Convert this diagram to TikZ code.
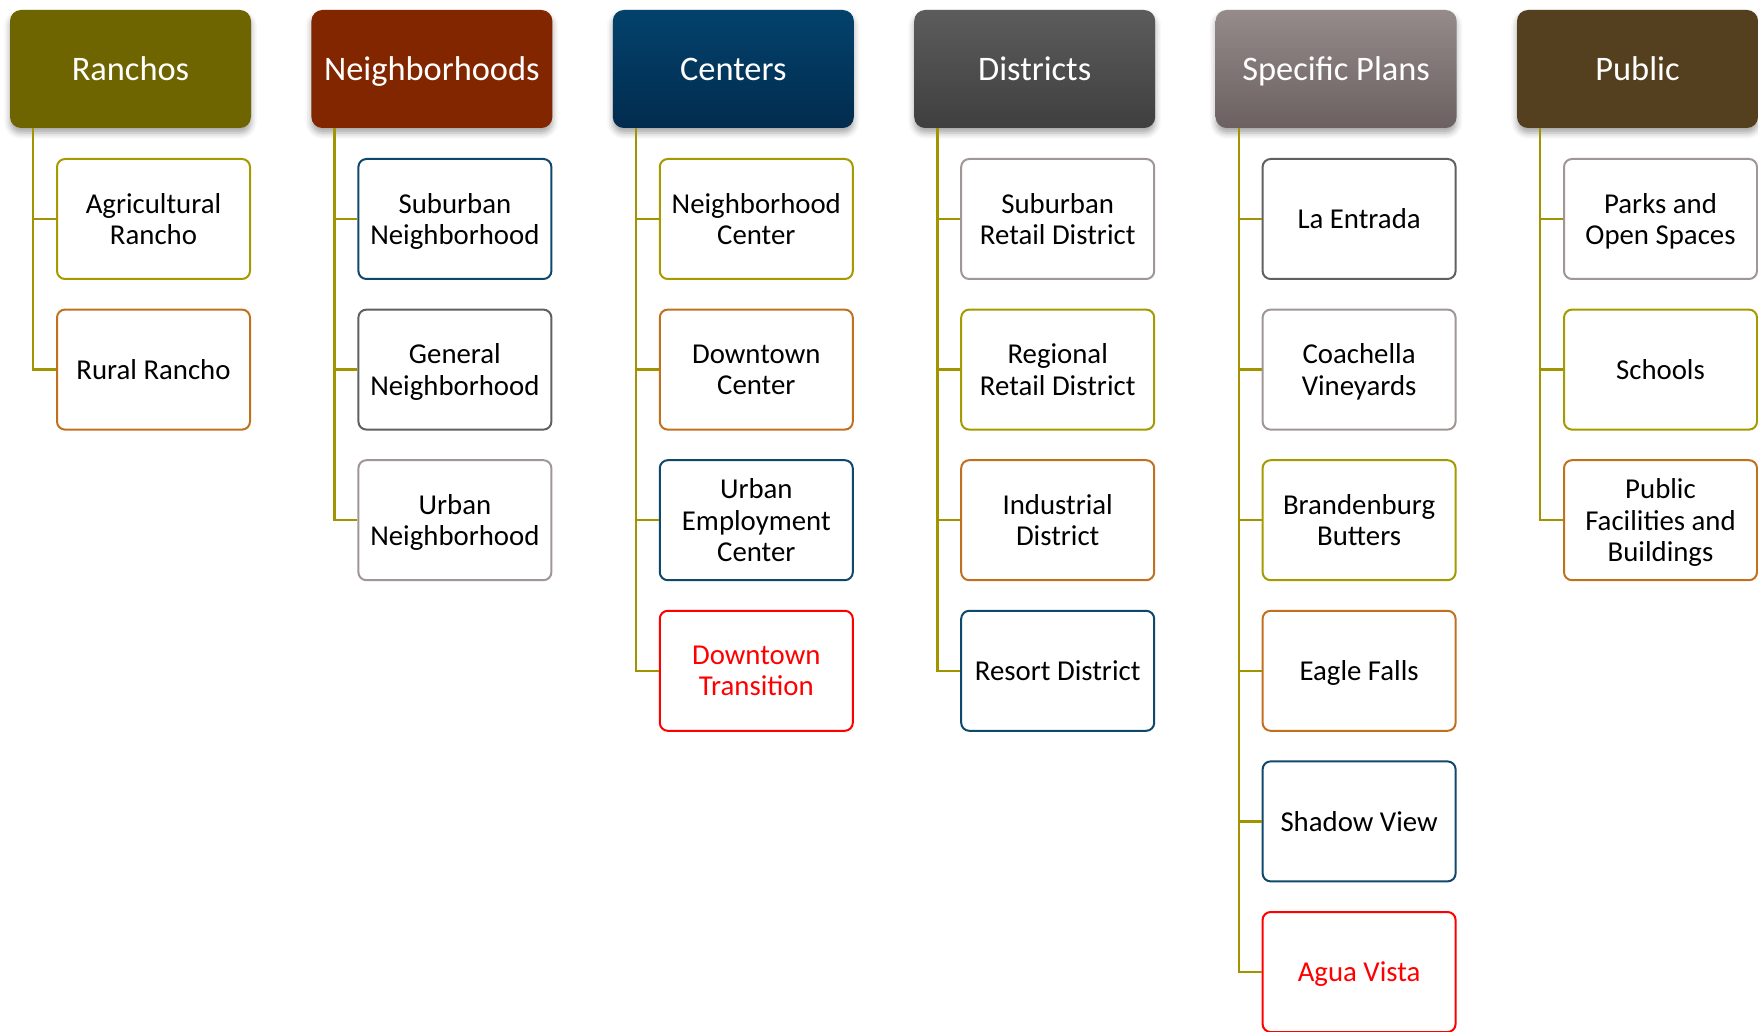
\documentclass[tikz,border=0pt]{standalone}
\usepackage{fontspec}
\setmainfont{Carlito}
\usetikzlibrary{shadows.blur}
\definecolor{olivehd}{HTML}{6F6500}
\definecolor{rusthd}{HTML}{822600}
\definecolor{bluetop}{HTML}{03426C}
\definecolor{bluebot}{HTML}{022C4E}
\definecolor{graytop}{HTML}{5C5C5C}
\definecolor{graybot}{HTML}{3F3F3F}
\definecolor{mauvetop}{HTML}{958B8B}
\definecolor{mauvebot}{HTML}{6C6060}
\definecolor{brownhd}{HTML}{54401E}
\definecolor{twig}{HTML}{A09400}
\definecolor{lnolive}{HTML}{A59A00}
\definecolor{lnorange}{HTML}{C0701E}
\definecolor{lnblue}{HTML}{10486C}
\definecolor{lngray}{HTML}{606060}
\definecolor{lnlight}{HTML}{A09696}
\definecolor{lnred}{HTML}{FF0000}

\begin{document}
\begin{tikzpicture}[x=0.5pt,y=-0.5pt,
  hdr/.style={rounded corners=5.5pt, minimum width=120.5pt, minimum height=59pt, inner sep=0pt,
    text=white, font=\fontsize{17.2}{20}\selectfont, text depth=0pt,
    blur shadow={shadow xshift=0pt, shadow yshift=-2.5pt, shadow blur radius=3pt, shadow opacity=35}},
  leaf/.style={draw, rounded corners=4pt, line width=1pt, fill=white, minimum width=96.5pt,
    minimum height=60pt, inner sep=0pt, align=center, text depth=0pt,
    font=\fontsize{14.4}{15.7}\selectfont},
  conn/.style={draw=twig, line width=1.2pt}]
\useasboundingbox (0,0) rectangle (1758,1032);

\node [hdr, fill=olivehd] (ranchos) at (130.5,69) {Ranchos};
\node [hdr, fill=rusthd] (nbhd) at (431.9,69) {Neighborhoods};
\node [hdr, top color=bluetop, bottom color=bluebot] (centers) at (733.3,69) {Centers};
\node [hdr, top color=graytop, bottom color=graybot] (districts) at (1034.7,69) {Districts};
\node [hdr, top color=mauvetop, bottom color=mauvebot] (plans) at (1336.1,69) {Specific Plans};
\node [hdr, fill=brownhd] (public) at (1637.5,69) {Public};

\node [leaf, draw=lnolive] (agri) at (153.5,219) {Agricultural\\Rancho};
\node [leaf, draw=lnorange] (rural) at (153.5,369.6) {Rural Rancho};

\node [leaf, draw=lnblue] (subn) at (454.9,219) {Suburban\\Neighborhood};
\node [leaf, draw=lngray] (genn) at (454.9,369.6) {General\\Neighborhood};
\node [leaf, draw=lnlight] (urbn) at (454.9,520.2) {Urban\\Neighborhood};

\node [leaf, draw=lnolive] (nbc) at (756.3,219) {Neighborhood\\Center};
\node [leaf, draw=lnorange] (dtc) at (756.3,369.6) {Downtown\\Center};
\node [leaf, draw=lnblue] (uec) at (756.3,520.2) {Urban\\Employment\\Center};
\node [leaf, draw=lnred, text=lnred] (dtt) at (756.3,670.8) {Downtown\\Transition};

\node [leaf, draw=lnlight] (srd) at (1057.7,219) {Suburban\\Retail District};
\node [leaf, draw=lnolive] (rrd) at (1057.7,369.6) {Regional\\Retail District};
\node [leaf, draw=lnorange] (ind) at (1057.7,520.2) {Industrial\\District};
\node [leaf, draw=lnblue] (res) at (1057.7,670.8) {Resort District};

\node [leaf, draw=lngray] (lae) at (1359.1,219) {La Entrada};
\node [leaf, draw=lnlight] (cva) at (1359.1,369.6) {Coachella\\Vineyards};
\node [leaf, draw=lnolive] (bbu) at (1359.1,520.2) {Brandenburg\\Butters};
\node [leaf, draw=lnorange] (eag) at (1359.1,670.8) {Eagle Falls};
\node [leaf, draw=lnblue] (shv) at (1359.1,821.4) {Shadow View};
\node [leaf, draw=lnred, text=lnred] (agv) at (1359.1,972) {Agua Vista};

\node [leaf, draw=lnlight] (parks) at (1660.5,219) {Parks and\\Open Spaces};
\node [leaf, draw=lnolive] (schools) at (1660.5,369.6) {Schools};
\node [leaf, draw=lnorange] (pfb) at (1660.5,520.2) {Public\\Facilities and\\Buildings};

\draw [conn] ([xshift=11.75pt]ranchos.south west) |- (agri.west);
\draw [conn] ([xshift=11.75pt]ranchos.south west) |- (rural.west);
\draw [conn] ([xshift=11.75pt]nbhd.south west) |- (subn.west);
\draw [conn] ([xshift=11.75pt]nbhd.south west) |- (genn.west);
\draw [conn] ([xshift=11.75pt]nbhd.south west) |- (urbn.west);
\draw [conn] ([xshift=11.75pt]centers.south west) |- (nbc.west);
\draw [conn] ([xshift=11.75pt]centers.south west) |- (dtc.west);
\draw [conn] ([xshift=11.75pt]centers.south west) |- (uec.west);
\draw [conn] ([xshift=11.75pt]centers.south west) |- (dtt.west);
\draw [conn] ([xshift=11.75pt]districts.south west) |- (srd.west);
\draw [conn] ([xshift=11.75pt]districts.south west) |- (rrd.west);
\draw [conn] ([xshift=11.75pt]districts.south west) |- (ind.west);
\draw [conn] ([xshift=11.75pt]districts.south west) |- (res.west);
\draw [conn] ([xshift=11.75pt]plans.south west) |- (lae.west);
\draw [conn] ([xshift=11.75pt]plans.south west) |- (cva.west);
\draw [conn] ([xshift=11.75pt]plans.south west) |- (bbu.west);
\draw [conn] ([xshift=11.75pt]plans.south west) |- (eag.west);
\draw [conn] ([xshift=11.75pt]plans.south west) |- (shv.west);
\draw [conn] ([xshift=11.75pt]plans.south west) |- (agv.west);
\draw [conn] ([xshift=11.75pt]public.south west) |- (parks.west);
\draw [conn] ([xshift=11.75pt]public.south west) |- (schools.west);
\draw [conn] ([xshift=11.75pt]public.south west) |- (pfb.west);
\end{tikzpicture}
\end{document}
